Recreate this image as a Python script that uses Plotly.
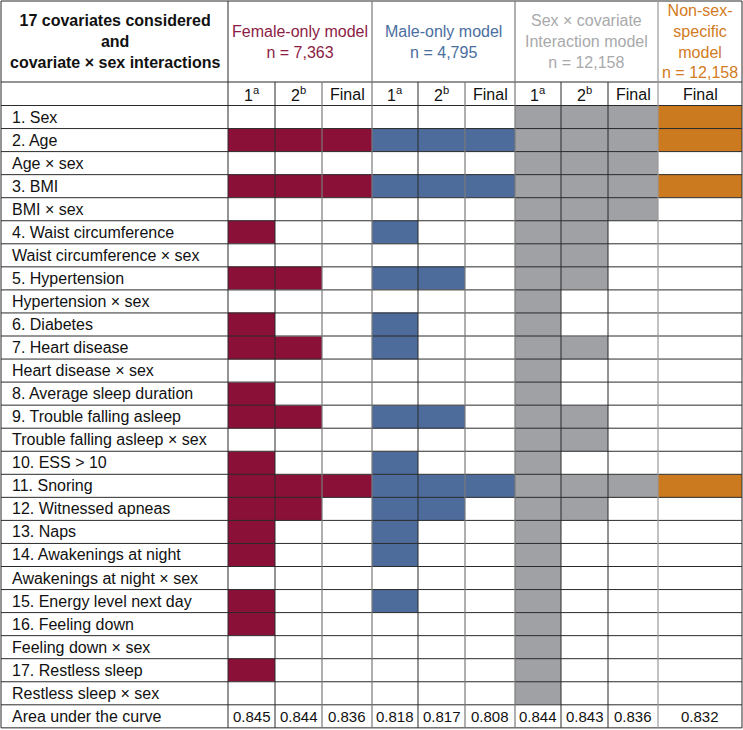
import plotly.graph_objects as go

# ---------------- data ----------------
row_labels = [
    "1. Sex", "2. Age", "Age × sex", "3. BMI", "BMI × sex",
    "4. Waist circumference", "Waist circumference × sex",
    "5. Hypertension", "Hypertension × sex", "6. Diabetes",
    "7. Heart disease", "Heart disease × sex", "8. Average sleep duration",
    "9. Trouble falling asleep", "Trouble falling asleep × sex",
    "10. ESS > 10", "11. Snoring", "12. Witnessed apneas", "13. Naps",
    "14. Awakenings at night", "Awakenings at night × sex",
    "15. Energy level next day", "16. Feeling down", "Feeling down × sex",
    "17. Restless sleep", "Restless sleep × sex",
]
female_1     = [0,1,0,1,0,1,0,1,0,1,1,0,1,1,0,1,1,1,1,1,0,1,1,0,1,0]
female_2     = [0,1,0,1,0,0,0,1,0,0,1,0,0,1,0,0,1,1,0,0,0,0,0,0,0,0]
female_final = [0,1,0,1,0,0,0,0,0,0,0,0,0,0,0,0,1,0,0,0,0,0,0,0,0,0]
male_1       = [0,1,0,1,0,1,0,1,0,1,1,0,0,1,0,1,1,1,1,1,0,1,0,0,0,0]
male_2       = [0,1,0,1,0,0,0,1,0,0,0,0,0,1,0,0,1,1,0,0,0,0,0,0,0,0]
male_final   = [0,1,0,1,0,0,0,0,0,0,0,0,0,0,0,0,1,0,0,0,0,0,0,0,0,0]
inter_1      = [1,1,1,1,1,1,1,1,1,1,1,1,1,1,1,1,1,1,1,1,1,1,1,1,1,1]
inter_2      = [1,1,1,1,1,1,1,1,0,0,1,0,0,1,1,0,1,1,0,0,0,0,0,0,0,0]
inter_final  = [1,1,1,1,1,0,0,0,0,0,0,0,0,0,0,0,1,0,0,0,0,0,0,0,0,0]
nonsex_final = [1,1,0,1,0,0,0,0,0,0,0,0,0,0,0,0,1,0,0,0,0,0,0,0,0,0]
auc_values = ["0.845", "0.844", "0.836", "0.818", "0.817", "0.808",
              "0.844", "0.843", "0.836", "0.832"]
sub_headers = ["1<sup>a</sup>", "2<sup>b</sup>", "Final",
               "1<sup>a</sup>", "2<sup>b</sup>", "Final",
               "1<sup>a</sup>", "2<sup>b</sup>", "Final", "Final"]
group_titles = [
    "Female-only model<br>n = 7,363",
    "Male-only model<br>n = 4,795",
    "Sex × covariate<br>Interaction model<br>n = 12,158",
    "Non-sex-<br>specific<br>model<br>n = 12,158",
]
left_title = "17 covariates considered<br>and<br>covariate × sex interactions"

# ---------------- layout / style ----------------
W, H = 743, 730
col_edges = [228, 275, 322, 372, 418, 465, 515, 561, 608, 658, 742]
left_x0 = 1
top_y, head_y, sub_y = 1, 82, 105.5
row_h = 23.05
n_rows = len(row_labels)
row_edges = [sub_y + i * row_h for i in range(n_rows + 1)]
auc_y0 = row_edges[-1]
auc_y1 = auc_y0 + row_h

MAROON, BLUE, GRAY, ORANGE = "#8A1038", "#4D6C9B", "#A0A1A5", "#CC7A1F"
T_MAROON, T_BLUE, T_GRAY, T_ORANGE = "#8C1C44", "#4A6EA0", "#A9A9AB", "#D27B22"
FONT = "Liberation Sans, Arial, Helvetica, sans-serif"

columns = [female_1, female_2, female_final, male_1, male_2, male_final,
           inter_1, inter_2, inter_final, nonsex_final]
col_color_idx = [1, 1, 1, 2, 2, 2, 3, 3, 3, 4]
z = [[columns[c][r] * col_color_idx[c] for c in range(len(columns))]
     for r in range(n_rows)]

colorscale = [
    [0.0, "#FFFFFF"], [0.2, "#FFFFFF"],
    [0.2, MAROON], [0.4, MAROON],
    [0.4, BLUE], [0.6, BLUE],
    [0.6, GRAY], [0.8, GRAY],
    [0.8, ORANGE], [1.0, ORANGE],
]

fig = go.Figure()
fig.add_trace(go.Heatmap(
    z=z, x=col_edges, y=row_edges,
    zmin=-0.5, zmax=4.5, colorscale=colorscale,
    showscale=False, hoverinfo="skip",
))

shapes = []
DARK = "#2B2B2B"
MID = "#7A7A7A"

def hline(y, x0, x1, color=DARK, w=1):
    shapes.append(dict(type="line", xref="x", yref="y", x0=x0, x1=x1, y0=y, y1=y,
                       line=dict(color=color, width=w), layer="above"))

def vline(x, y0, y1, color=DARK, w=1):
    shapes.append(dict(type="line", xref="x", yref="y", x0=x, x1=x, y0=y0, y1=y1,
                       line=dict(color=color, width=w), layer="above"))

# horizontal lines
hline(top_y, left_x0, col_edges[-1])
hline(head_y, left_x0, col_edges[-1])
for y in row_edges:
    hline(y, left_x0, col_edges[-1])
hline(auc_y1, left_x0, col_edges[-1])

# vertical lines
vline(left_x0, top_y, auc_y1)
vline(col_edges[-1], top_y, auc_y1)
group_edges = [228, 372, 515, 658]
vcolors = {228: DARK, 275: DARK, 322: MID, 372: MID, 418: DARK, 465: MID,
           515: MID, 561: DARK, 608: DARK, 658: "#999999"}
for x in col_edges[:-1]:
    y0 = top_y if x in group_edges else head_y
    vline(x, y0, auc_y1, color=vcolors[x], w=1.2 if vcolors[x] != DARK else 1)

annotations = []

def text(x, y, s, size=15, color="#111111", xanchor="center", bold=False):
    annotations.append(dict(
        x=x, y=y, xref="x", yref="y", text=f"<b>{s}</b>" if bold else s,
        showarrow=False, xanchor=xanchor, yanchor="middle",
        font=dict(family=FONT, size=size, color=color), align="center",
    ))

# header
text((left_x0 + 228) / 2, 41.5, left_title, size=16, bold=True)
title_colors = [T_MAROON, T_BLUE, T_GRAY, T_ORANGE]
for i, t in enumerate(title_colors):
    x0, x1 = group_edges[i], (group_edges + [col_edges[-1]])[i + 1]
    text((x0 + x1) / 2, 41.5, group_titles[i], size=16, color=t)

# sub headers
for c, s in enumerate(sub_headers):
    text((col_edges[c] + col_edges[c + 1]) / 2, (head_y + sub_y) / 2 + 0.5, s, size=16)

# row labels
for r, lab in enumerate(row_labels):
    text(10, (row_edges[r] + row_edges[r + 1]) / 2, lab, size=16, xanchor="left")

# AUC row
text(10, (auc_y0 + auc_y1) / 2, "Area under the curve", size=16, xanchor="left")
for c, v in enumerate(auc_values):
    text((col_edges[c] + col_edges[c + 1]) / 2, (auc_y0 + auc_y1) / 2, v, size=15)

fig.update_layout(
    width=W, height=H,
    margin=dict(l=0, r=0, t=0, b=0),
    paper_bgcolor="white", plot_bgcolor="white",
    xaxis=dict(range=[0, W], visible=False, fixedrange=True),
    yaxis=dict(range=[H, 0], visible=False, fixedrange=True),
    shapes=shapes, annotations=annotations,
    font=dict(family=FONT),
)

fig.write_html(
    "out.html",
    config={"displayModeBar": False},
    post_script="document.body.style.margin='0';document.body.style.overflow='hidden';",
)
